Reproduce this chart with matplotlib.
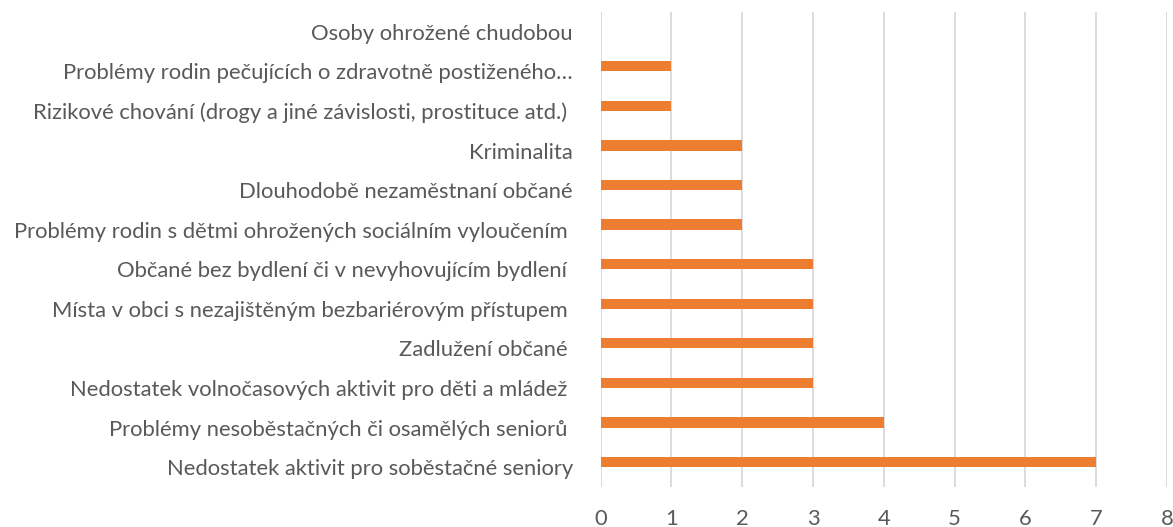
import matplotlib
matplotlib.use("Agg")
import matplotlib.pyplot as plt

categories = [
    "Nedostatek aktivit pro soběstačné seniory",
    "Problémy nesoběstačných či osamělých seniorů ",
    "Nedostatek volnočasových aktivit pro děti a mládež ",
    "Zadlužení občané ",
    "Místa v obci s nezajištěným bezbariérovým přístupem ",
    "Občané bez bydlení či v nevyhovujícím bydlení ",
    "Problémy rodin s dětmi ohrožených sociálním vyloučením ",
    "Dlouhodobě nezaměstnaní občané",
    "Kriminalita",
    "Rizikové chování (drogy a jiné závislosti, prostituce atd.) ",
    "Problémy rodin pečujících o zdravotně postiženého…",
    "Osoby ohrožené chudobou",
]
values = [7, 4, 3, 3, 3, 3, 2, 2, 2, 1, 1, 0]
xticks = [0, 1, 2, 3, 4, 5, 6, 7, 8]

plt.rcParams['font.family'] = ['Lato', 'DejaVu Sans']
W, H = 1173, 527
fig = plt.figure(figsize=(W/100, H/100), dpi=100)
ax = fig.add_axes([600.7/W, 1 - 487/H, (1167 - 600.7)/W, 475/H])

y = list(range(len(categories)))
bar_h = 0.26
ax.barh([v + bar_h / 2 for v in y], values, height=bar_h, color='#ED7D31', zorder=3)
ax.set_ylim(-0.5, len(categories) - 0.5)
ax.set_xlim(0, 8)
ax.set_xticks(xticks)
ax.set_yticks(y)
ax.set_yticklabels(categories, fontsize=15.8, color='#595959')
ax.set_xticklabels([str(t) for t in xticks], fontsize=15.8, color='#595959')
ax.tick_params(axis='y', length=0, pad=20)
ax.tick_params(axis='x', length=0, pad=16)
ax.grid(axis='x', color='#D9D9D9', linewidth=1.3, zorder=0)
for s in ax.spines.values():
    s.set_visible(False)

fig.savefig('out.png', dpi=100)
